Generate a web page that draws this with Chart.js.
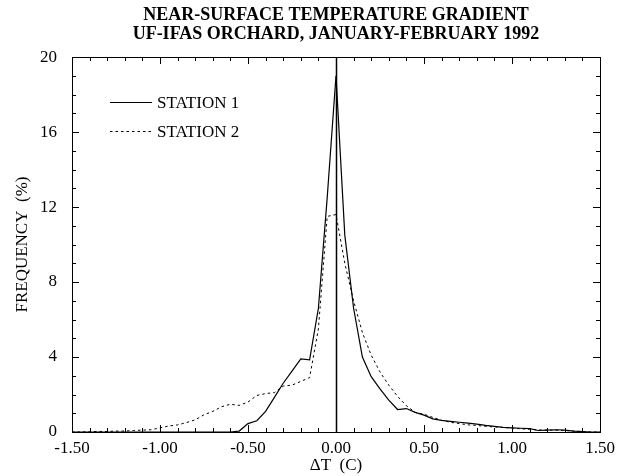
<!DOCTYPE html>
<html>
<head>
<meta charset="utf-8">
<script src="https://cdn.jsdelivr.net/npm/chart.js@4.4.0/dist/chart.umd.min.js"></script>
<style>
  html, body { margin: 0; padding: 0; background: #fff; }
  canvas { display: block; }
</style>
</head>
<body>
<canvas id="chart" width="626" height="476"></canvas>
<script>
// temperature difference bins (C)
const deltaT = [
  -1.50, -1.45, -1.40, -1.35, -1.30, -1.25, -1.20, -1.15, -1.10, -1.05,
  -1.00, -0.95, -0.90, -0.85, -0.80, -0.75, -0.70, -0.65, -0.60, -0.55,
  -0.50, -0.45, -0.40, -0.35, -0.30, -0.25, -0.20, -0.15, -0.10, -0.05,
   0.00,  0.05,  0.10,  0.15,  0.20,  0.25,  0.30,  0.35,  0.40,  0.45,
   0.50,  0.55,  0.60,  0.65,  0.70,  0.75,  0.80,  0.85,  0.90,  0.95,
   1.00,  1.05,  1.10,  1.15,  1.20,  1.25,  1.30,  1.35,  1.40,  1.45,
   1.50
];

// frequency (%)
const station1 = [
  0, 0, 0, 0, 0, 0, 0, 0, 0, 0,
  0, 0, 0, 0, 0, 0, 0, 0, 0, 0.05,
  0.45, 0.6, 1.1, 1.85, 2.6, 3.25, 3.9, 3.85, 6.6, 12.5,
  19.0, 10.5, 6.6, 4.0, 2.95, 2.3, 1.7, 1.2, 1.25, 1.05,
  0.9, 0.7, 0.62, 0.57, 0.52, 0.47, 0.42, 0.35, 0.3, 0.25,
  0.22, 0.2, 0.18, 0.08, 0.1, 0.12, 0.1, 0.05, 0.02, 0,
  0
];

const station2 = [
  0, 0, 0.02, 0.03, 0.03, 0.05, 0.05, 0.08, 0.1, 0.12,
  0.22, 0.32, 0.38, 0.5, 0.65, 0.92, 1.1, 1.35, 1.48, 1.42,
  1.6, 1.95, 2.05, 2.1, 2.45, 2.5, 2.7, 2.9, 5.5, 11.5,
  11.6, 9.0, 7.0, 5.3, 4.1, 3.2, 2.5, 1.9, 1.4, 1.05,
  0.95, 0.78, 0.62, 0.52, 0.45, 0.38, 0.35, 0.3, 0.27, 0.24,
  0.21, 0.17, 0.14, 0.11, 0.1, 0.1, 0.08, 0.05, 0.02, 0,
  0
];

const seriesLabels = ['STATION 1', 'STATION 2'];
const yTicks = [0, 4, 8, 12, 16, 20];

const serif = '"Liberation Serif", "Times New Roman", serif';

const toPoints = (vals) => vals.map((v, i) => ({ x: deltaT[i], y: v }));

// box, inward tick marks, zero line and the in-plot legend
const framePlugin = {
  id: 'frame',
  beforeDatasetsDraw(chart) {
    const { ctx, chartArea: a, scales } = chart;
    const x0 = Math.round(scales.x.getPixelForValue(0)) + 0.5;
    ctx.save();
    ctx.strokeStyle = '#000';
    ctx.lineWidth = 1.5;
    ctx.beginPath();
    ctx.moveTo(x0, a.top);
    ctx.lineTo(x0, a.bottom);
    ctx.stroke();
    ctx.restore();
  },
  afterDatasetsDraw(chart) {
    const { ctx, chartArea: a, scales } = chart;
    ctx.save();
    ctx.strokeStyle = '#000';
    ctx.lineWidth = 1;
    ctx.strokeRect(Math.round(a.left) + 0.5, Math.round(a.top) + 0.5,
      Math.round(a.right - a.left), Math.round(a.bottom - a.top));

    ctx.beginPath();
    for (let i = -15; i <= 15; i++) {
      const px = Math.round(scales.x.getPixelForValue(i / 10)) + 0.5;
      const len = i % 5 === 0 ? 7 : 4;
      ctx.moveTo(px, a.bottom); ctx.lineTo(px, a.bottom - len);
      ctx.moveTo(px, a.top); ctx.lineTo(px, a.top + len);
    }
    for (let j = 0; j <= 20; j++) {
      const py = Math.round(scales.y.getPixelForValue(j)) + 0.5;
      const len = j % 4 === 0 ? 7 : 4;
      ctx.moveTo(a.left, py); ctx.lineTo(a.left + len, py);
      ctx.moveTo(a.right, py); ctx.lineTo(a.right - len, py);
    }
    ctx.stroke();

    // legend
    const lx = a.left + 38, lw = 42;
    const rows = [a.top + 45, a.top + 74];
    ctx.font = '17px ' + serif;
    ctx.fillStyle = '#000';
    ctx.textBaseline = 'middle';
    chart.data.datasets.forEach((ds, k) => {
      const y = Math.round(rows[k]) + 0.5;
      ctx.lineWidth = ds.borderWidth;
      ctx.setLineDash(ds.borderDash || []);
      ctx.beginPath();
      ctx.moveTo(lx, y);
      ctx.lineTo(lx + lw, y);
      ctx.stroke();
      ctx.setLineDash([]);
      ctx.fillText(ds.label, lx + lw + 5, rows[k] + 1);
    });
    ctx.restore();
  }
};

new Chart(document.getElementById('chart'), {
  type: 'line',
  data: {
    datasets: [
      {
        label: seriesLabels[0],
        data: toPoints(station1),
        borderColor: '#000',
        borderWidth: 1.2,
        pointRadius: 0,
        tension: 0
      },
      {
        label: seriesLabels[1],
        data: toPoints(station2),
        borderColor: '#000',
        borderWidth: 1,
        borderDash: [2.5, 3],
        pointRadius: 0,
        tension: 0
      }
    ]
  },
  options: {
    responsive: false,
    animation: false,
    devicePixelRatio: 1,
    layout: { padding: { left: 0, right: 26, top: 0, bottom: 0 } },
    plugins: {
      legend: { display: false },
      tooltip: { enabled: false },
      title: {
        display: true,
        fullSize: false,
        text: ['NEAR-SURFACE TEMPERATURE GRADIENT', 'UF-IFAS ORCHARD, JANUARY-FEBRUARY 1992'],
        color: '#000',
        font: { family: serif, size: 18, weight: 'bold', lineHeight: 1.06 },
        padding: { top: 5.5, bottom: 13.4 }
      }
    },
    scales: {
      x: {
        type: 'linear',
        min: -1.5,
        max: 1.5,
        afterFit(scale) { scale.height = 44; },
        grid: { display: false, drawTicks: false },
        border: { display: false },
        ticks: {
          stepSize: 0.5,
          padding: 6,
          color: '#000',
          font: { family: serif, size: 17 },
          callback: (v) => Number(v).toFixed(2)
        },
        title: {
          display: true,
          text: 'ΔT  (C)',
          color: '#000',
          font: { family: serif, size: 17 },
          padding: { top: 0, bottom: 0 }
        }
      },
      y: {
        min: 0,
        max: 20,
        afterFit(scale) { scale.width = 72; },
        afterBuildTicks(scale) { scale.ticks = yTicks.map(v => ({ value: v })); },
        grid: { display: false, drawTicks: false },
        border: { display: false },
        ticks: {
          padding: 15,
          color: '#000',
          font: { family: serif, size: 17 }
        },
        title: {
          display: true,
          text: 'FREQUENCY  (%)',
          color: '#000',
          font: { family: serif, size: 17 },
          padding: { top: 12, bottom: 0 }
        }
      }
    }
  },
  plugins: [framePlugin]
});
</script>
</body>
</html>
